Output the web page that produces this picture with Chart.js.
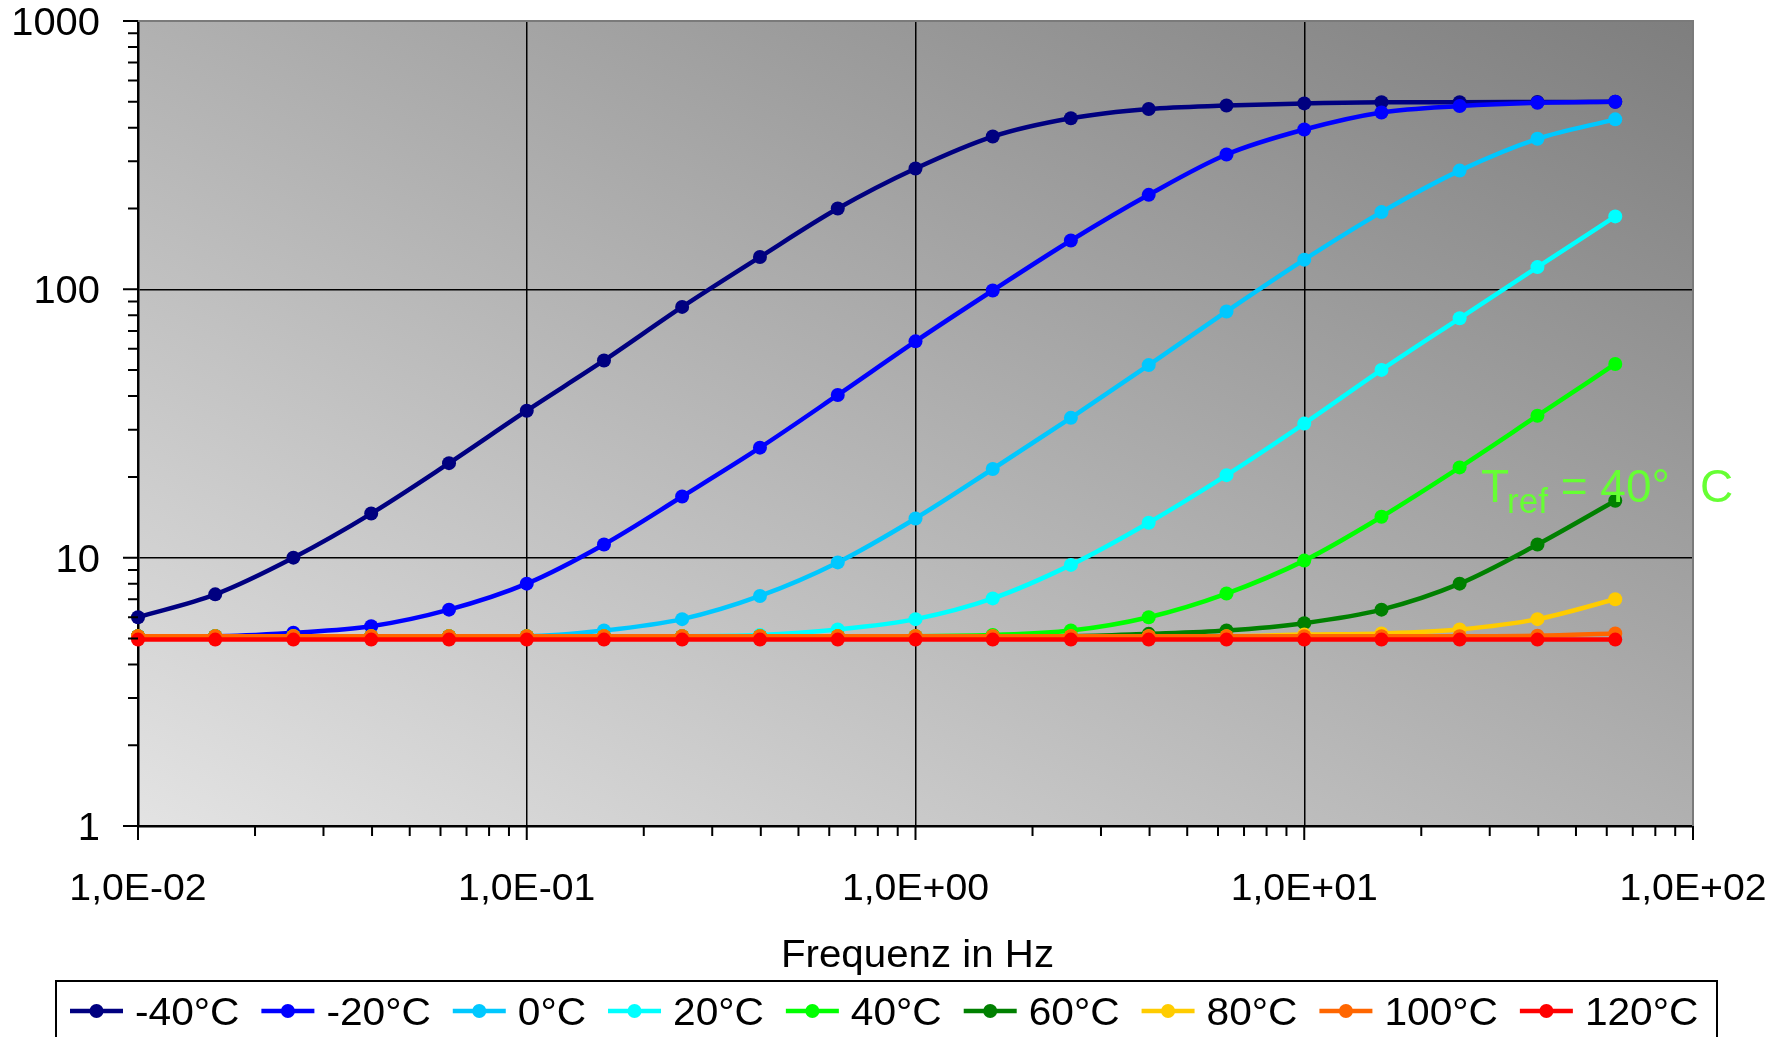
<!DOCTYPE html>
<html>
<head>
<meta charset="utf-8">
<title>Frequenz in Hz</title>
<script src="https://cdn.jsdelivr.net/npm/chart.js@4.4.1/dist/chart.umd.min.js"></script>
<style>
  html, body { margin: 0; padding: 0; background: #fff; }
  #wrap { width: 1791px; height: 1037px; }
</style>
</head>
<body>
<div id="wrap"><canvas id="chart"></canvas></div>
<script>
// Measured frequencies in Hz (5 points per decade)
const frequencies = [0.01, 0.0158, 0.0251, 0.0398, 0.0631, 0.1, 0.158, 0.251, 0.398, 0.631,
                     1, 1.58, 2.51, 3.98, 6.31, 10, 15.8, 25.1, 39.8, 63.1];

const seriesLabels = ['-40°C', '-20°C', '0°C', '20°C', '40°C', '60°C', '80°C', '100°C', '120°C'];
const seriesColors = ['#000080', '#0000FF', '#00C8FF', '#00FFFF', '#00FF00', '#008000', '#FFCC00', '#FF6600', '#FF0000'];

// values
const valuesM40 = [6.0, 7.3, 10.0, 14.6, 22.5, 35.3, 54.3, 86, 132, 200, 282, 371, 434, 470, 484, 493, 498, 498, 499, 500];
const valuesM20 = [5.1, 5.1, 5.25, 5.55, 6.4, 8.0, 11.2, 16.9, 25.7, 40.4, 64, 99, 152, 225, 318, 394, 456, 482, 496, 500];
const values0   = [5.1, 5.1, 5.1, 5.1, 5.1, 5.1, 5.35, 5.9, 7.2, 9.6, 14.0, 21.4, 33.2, 52.2, 82.7, 129, 194, 277, 364, 430];
const values20  = [5.1, 5.1, 5.1, 5.1, 5.1, 5.1, 5.1, 5.1, 5.15, 5.4, 5.9, 7.05, 9.4, 13.5, 20.3, 31.6, 50.1, 78, 121, 187];
const values40  = [5.1, 5.1, 5.1, 5.1, 5.1, 5.1, 5.1, 5.1, 5.1, 5.1, 5.1, 5.15, 5.35, 6.0, 7.35, 9.75, 14.2, 21.7, 33.8, 52.7];
const values60  = [5.1, 5.1, 5.1, 5.1, 5.1, 5.1, 5.1, 5.1, 5.1, 5.1, 5.1, 5.1, 5.1, 5.2, 5.35, 5.7, 6.4, 8.0, 11.2, 16.3];
const values80  = [5.1, 5.1, 5.1, 5.1, 5.1, 5.1, 5.1, 5.1, 5.1, 5.1, 5.1, 5.1, 5.1, 5.1, 5.1, 5.17, 5.22, 5.4, 5.9, 7.0];
const values100 = [5.1, 5.1, 5.1, 5.1, 5.1, 5.1, 5.1, 5.1, 5.1, 5.1, 5.1, 5.1, 5.1, 5.1, 5.1, 5.1, 5.1, 5.1, 5.12, 5.22];
const values120 = [4.95, 4.95, 4.95, 4.95, 4.95, 4.95, 4.95, 4.95, 4.95, 4.95, 4.95, 4.95, 4.95, 4.95, 4.95, 4.95, 4.95, 4.95, 4.95, 4.95];

const allValues = [valuesM40, valuesM20, values0, values20, values40, values60, values80, values100, values120];

// axis ticks
const xTickValues = [0.01, 0.1, 1, 10, 100];
const xTickLabels = ['1,0E-02', '1,0E-01', '1,0E+00', '1,0E+01', '1,0E+02'];
const yTickValues = [1, 10, 100, 1000];
const yTickLabels = ['1', '10', '100', '1000'];
const xTitle = 'Frequenz in Hz';

const FONT = '"Liberation Sans", Arial, sans-serif';

// text drawn slightly wider than normal, like the original picture
function drawText(ctx, text, x, y, size, stretch, align, color) {
    ctx.save();
    ctx.font = size + 'px ' + FONT;
    ctx.fillStyle = color || '#000';
    ctx.textAlign = align || 'left';
    ctx.textBaseline = 'alphabetic';
    ctx.translate(x, y);
    ctx.scale(stretch, 1);
    ctx.fillText(text, 0, 0);
    const w = ctx.measureText(text).width * stretch;
    ctx.restore();
    return w;
}

function minorValues(decades) {
    const out = [];
    for (let i = 0; i < decades.length - 1; i++) {
        for (let k = 2; k <= 9; k++) out.push(decades[i] * k);
    }
    return out;
}

// gray gradient behind the plot
const backgroundPlugin = {
    id: 'plotBackground',
    beforeDraw(chart) {
        const {ctx, chartArea: a} = chart;
        ctx.save();
        ctx.fillStyle = '#fff';
        ctx.fillRect(0, 0, chart.width, chart.height);
        const W = a.right - a.left, H = a.bottom - a.top;
        const k = 2 * W * H / (W * W + H * H);
        const g = ctx.createLinearGradient(a.left, a.bottom, a.left + k * H, a.bottom - k * W);
        g.addColorStop(0, '#E3E3E3');
        g.addColorStop(1, '#7E7E7E');
        ctx.fillStyle = g;
        ctx.fillRect(a.left, a.top, W, H);
        ctx.restore();
    }
};

// ticks, labels, title, legend and note
const decorPlugin = {
    id: 'decor',
    afterDraw(chart) {
        const {ctx, chartArea: a} = chart;
        const xs = chart.scales.x, ys = chart.scales.y;

        ctx.save();
        // gray frame top / right
        ctx.strokeStyle = '#7A7A7A';
        ctx.lineWidth = 2;
        ctx.beginPath();
        ctx.moveTo(a.left, a.top);
        ctx.lineTo(a.right, a.top);
        ctx.lineTo(a.right, a.bottom);
        ctx.stroke();

        // tick marks
        ctx.strokeStyle = '#000';
        ctx.lineWidth = 2;
        ctx.beginPath();
        yTickValues.forEach(v => { const p = ys.getPixelForValue(v); ctx.moveTo(a.left - 15, p); ctx.lineTo(a.left, p); });
        minorValues(yTickValues).forEach(v => { const p = ys.getPixelForValue(v); ctx.moveTo(a.left - 10, p); ctx.lineTo(a.left, p); });
        xTickValues.forEach(v => { const p = xs.getPixelForValue(v); ctx.moveTo(p, a.bottom); ctx.lineTo(p, a.bottom + 14); });
        minorValues(xTickValues).forEach(v => { const p = xs.getPixelForValue(v); ctx.moveTo(p, a.bottom); ctx.lineTo(p, a.bottom + 10); });
        ctx.stroke();
        ctx.restore();

        // tick labels
        yTickValues.forEach((v, i) => drawText(ctx, yTickLabels[i], a.left - 38, ys.getPixelForValue(v) + 14, 38, 1.05, 'right'));
        xTickValues.forEach((v, i) => drawText(ctx, xTickLabels[i], xs.getPixelForValue(v), a.bottom + 74, 37, 1.06, 'center'));

        // axis title
        drawText(ctx, xTitle, (a.left + a.right) / 2 + 2, a.bottom + 141, 38, 1.06, 'center');

        // legend
        const legY = 1011;
        let lx = 70;
        ctx.save();
        ctx.font = '38px ' + FONT;
        const widths = seriesLabels.map(t => ctx.measureText(t).width * 1.07);
        ctx.restore();
        const legLeft = 56, legTop = 981, legRight = 1717;
        ctx.save();
        ctx.strokeStyle = '#000';
        ctx.lineWidth = 2;
        ctx.strokeRect(legLeft, legTop, legRight - legLeft, 80);
        ctx.restore();
        seriesLabels.forEach((t, i) => {
            ctx.save();
            ctx.strokeStyle = seriesColors[i];
            ctx.fillStyle = seriesColors[i];
            ctx.lineWidth = 4.5;
            ctx.beginPath();
            ctx.moveTo(lx, legY);
            ctx.lineTo(lx + 53, legY);
            ctx.stroke();
            ctx.beginPath();
            ctx.arc(lx + 26.5, legY, 7, 0, Math.PI * 2);
            ctx.fill();
            ctx.restore();
            drawText(ctx, t, lx + 65, legY + 14, 38, 1.07, 'left');
            lx += 65 + widths[i] + 22;
        });

        // reference temperature note
        const noteColor = '#66FF33';
        let nx = 1481;
        nx += drawText(ctx, 'T', nx, 502, 46, 1.0, 'left', noteColor);
        nx += drawText(ctx, 'ref', nx - 2, 513, 35, 1.0, 'left', noteColor) - 2;
        nx += drawText(ctx, ' = 40°', nx, 502, 46, 1.0, 'left', noteColor);
        drawText(ctx, 'C', nx + 30, 502, 46, 1.0, 'left', noteColor);
    }
};

const datasets = seriesLabels.map((label, i) => ({
    label: label,
    data: frequencies.map((f, j) => ({x: f, y: allValues[i][j]})),
    borderColor: seriesColors[i],
    backgroundColor: seriesColors[i],
    pointBackgroundColor: seriesColors[i],
    pointBorderWidth: 0,
    pointRadius: 7,
    borderWidth: 4.5,
    cubicInterpolationMode: 'monotone',
    clip: false,
    order: seriesLabels.length - i
}));

const ctx = document.getElementById('chart').getContext('2d');
const chart = new Chart(ctx, {
    type: 'line',
    data: { datasets: datasets },
    options: {
        responsive: true,
        maintainAspectRatio: false,
        animation: false,
        events: [],
        layout: { padding: { top: 21, right: 98, left: 0, bottom: 0 } },
        plugins: {
            legend: { display: false },
            tooltip: { enabled: false }
        },
        scales: {
            x: {
                type: 'logarithmic',
                min: 0.01,
                max: 100,
                afterBuildTicks: scale => { scale.ticks = xTickValues.map(v => ({value: v, major: true})); },
                afterFit: scale => { scale.height = 211; },
                ticks: { display: false },
                grid: {
                    drawTicks: false,
                    lineWidth: 1.5,
                    color: c => (c.tick && c.tick.value === 100) ? 'rgba(0,0,0,0)' : '#000'
                },
                border: { display: true, color: '#000', width: 2.5 }
            },
            y: {
                type: 'logarithmic',
                min: 1,
                max: 1000,
                afterBuildTicks: scale => { scale.ticks = yTickValues.map(v => ({value: v, major: true})); },
                afterFit: scale => { scale.width = 138; },
                ticks: { display: false },
                grid: {
                    drawTicks: false,
                    lineWidth: 1.5,
                    color: c => (c.tick && c.tick.value === 1000) ? 'rgba(0,0,0,0)' : '#000'
                },
                border: { display: true, color: '#000', width: 2.5 }
            }
        }
    },
    plugins: [backgroundPlugin, decorPlugin]
});
</script>
</body>
</html>
